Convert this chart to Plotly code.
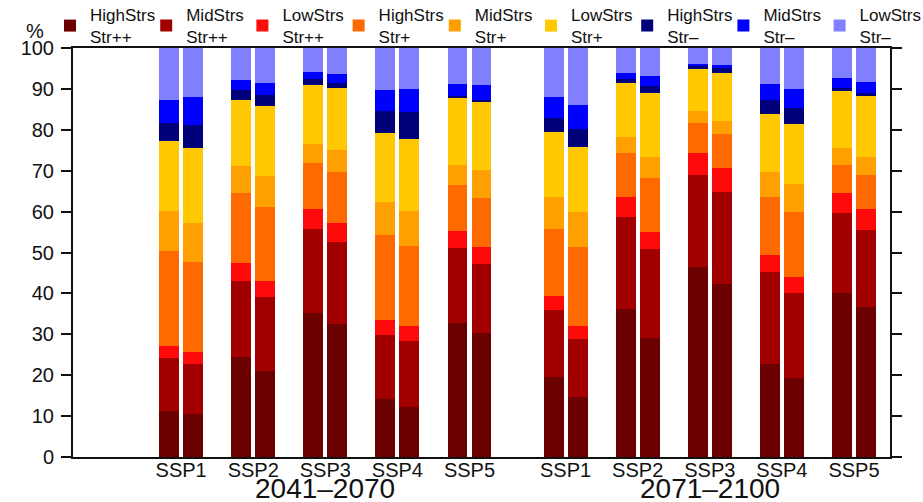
import plotly.graph_objects as go

periods = ["2041–2070", "2071–2100"]
ssps = ["SSP1", "SSP2", "SSP3", "SSP4", "SSP5"]
n_members = 2

series_names = [
    "HighStrs<br>Str++", "MidStrs<br>Str++", "LowStrs<br>Str++",
    "HighStrs<br>Str+", "MidStrs<br>Str+", "LowStrs<br>Str+",
    "HighStrs<br>Str–", "MidStrs<br>Str–", "LowStrs<br>Str–",
]
colors = ["#6B0000", "#A20000", "#FF0A0A", "#FF6A00", "#FFA000",
          "#FFC800", "#00007A", "#0000FF", "#8080FF"]

# 20 bars: period1 SSP1a, SSP1b, SSP2a, ..., SSP5b, period2 SSP1a, ..., SSP5b
high_pp = [11.3, 10.5, 24.5, 21.1, 35.3, 32.5, 14.1, 12.3, 32.8, 30.4,
           19.5, 14.7, 36.1, 29.0, 46.5, 42.3, 22.7, 19.2, 40.0, 36.7]
mid_pp = [12.8, 12.2, 18.6, 17.9, 20.4, 20.1, 15.7, 16.1, 18.2, 16.7,
          16.4, 14.2, 22.7, 21.8, 22.5, 22.6, 22.6, 20.8, 19.7, 18.8]
low_pp = [3.0, 3.0, 4.4, 4.1, 4.9, 4.7, 3.7, 3.7, 4.3, 4.2,
          3.5, 3.1, 4.8, 4.1, 5.3, 5.7, 4.1, 4.1, 4.8, 5.1]
high_p = [23.3, 22.1, 17.1, 18.1, 11.2, 12.5, 20.8, 19.6, 11.2, 12.1,
          16.3, 19.3, 10.7, 13.2, 7.3, 8.4, 14.1, 15.9, 6.9, 8.4]
mid_p = [9.8, 9.3, 6.5, 7.5, 4.7, 5.3, 8.1, 8.5, 4.9, 6.8,
         7.8, 8.5, 4.0, 5.2, 3.0, 3.2, 6.3, 6.7, 4.1, 4.4]
low_p = [17.1, 18.4, 16.2, 17.0, 14.5, 15.0, 16.9, 17.5, 16.5, 16.7,
         16.0, 16.1, 13.1, 15.8, 10.2, 11.6, 14.1, 14.7, 14.2, 14.9]
high_m = [4.4, 5.7, 2.4, 2.8, 1.3, 1.3, 5.3, 6.7, 0.4, 0.5,
          3.3, 4.2, 0.9, 1.6, 0.8, 1.2, 3.4, 4.0, 0.4, 0.6]
mid_m = [5.7, 6.7, 2.5, 3.0, 1.9, 2.2, 5.1, 5.5, 2.9, 3.6,
         5.1, 6.0, 1.7, 2.5, 0.6, 0.8, 3.9, 4.5, 2.5, 2.7]
low_m = [12.6, 12.1, 7.8, 8.5, 5.8, 6.4, 10.3, 10.1, 8.8, 9.0,
         12.1, 13.9, 6.0, 6.8, 3.8, 4.2, 8.8, 10.1, 7.4, 8.4]

series_values = [high_pp, mid_pp, low_pp, high_p, mid_p, low_p, high_m, mid_m, low_m]

y_ticks = [0, 10, 20, 30, 40, 50, 60, 70, 80, 90, 100]

# slot layout: 4 empty slots at the left, 3 slots per SSP group, 1 extra gap between periods
lead, per_group, per_period = 4, 3, 16
xs, group_centers = [], []
for p in range(len(periods)):
    for s in range(len(ssps)):
        base = lead + p * per_period + s * per_group
        group_centers.append(base + (n_members - 1) / 2)
        for m in range(n_members):
            xs.append(base + m)
tick_text = ssps * len(periods)

font_family = "Liberation Sans, Arial, sans-serif"
W, H = 923, 502
ML, MR, MT, MB = 73, 33, 48, 45
plot_w, plot_h = W - ML - MR, H - MT - MB

fig = go.Figure()
legend_layouts = {}
for i, (name, vals, col) in enumerate(zip(series_names, series_values, colors)):
    key = "legend" if i == 0 else f"legend{i + 1}"
    fig.add_trace(go.Bar(x=xs, y=vals, name=name, width=0.83, legend=key,
                         marker=dict(color=col, line=dict(width=0))))
    legend_layouts[key] = dict(
        orientation="h", xref="container", yref="paper",
        x=(50 + 96.2 * i) / W, y=1 + (MT + 3) / plot_h,
        xanchor="left", yanchor="top",
        font=dict(size=17, family=font_family, color="#111"),
        bgcolor="rgba(0,0,0,0)", borderwidth=0)

fig.update_layout(
    width=W, height=H,
    barmode="stack",
    plot_bgcolor="white", paper_bgcolor="white",
    margin=dict(l=ML, r=MR, t=MT, b=MB, autoexpand=False),
    font=dict(family=font_family, color="#111", size=20),
    showlegend=True,
    xaxis=dict(range=[0, 34], tickmode="array", tickvals=group_centers,
               ticktext=tick_text, ticks="", showgrid=False, zeroline=False,
               showline=True, linecolor="#111", linewidth=2, mirror=True,
               tickfont=dict(size=20), ticklabelstandoff=-6),
    yaxis=dict(range=[0, 100], tickmode="array", tickvals=y_ticks,
               ticks="outside", ticklen=10, tickwidth=2, tickcolor="#111",
               showgrid=False, zeroline=False, showline=True, linecolor="#111",
               linewidth=2, mirror="ticks", tickfont=dict(size=20),
               ticklabelstandoff=3),
    **legend_layouts,
)

for p, label in enumerate(periods):
    centers = group_centers[p * len(ssps):(p + 1) * len(ssps)]
    fig.add_annotation(x=(centers[0] + centers[-1]) / 2, xref="x",
                       y=-0.035, yref="paper", yanchor="top", showarrow=False,
                       text=label, font=dict(size=28, family=font_family, color="#111"))

fig.add_annotation(xref="paper", yref="paper",
                   x=(35 - ML) / plot_w, y=(H - MB - 31) / plot_h,
                   xanchor="center", yanchor="middle", showarrow=False,
                   text="%", font=dict(size=20, family=font_family, color="#111"))

fig.write_html("out.html")
